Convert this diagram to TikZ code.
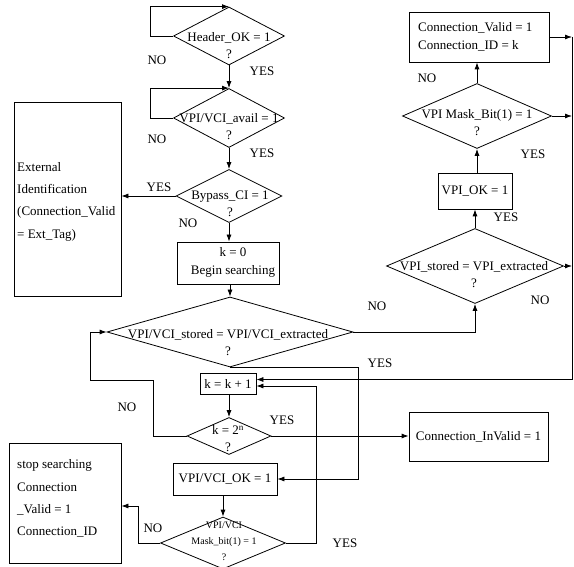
\documentclass[tikz,border=0pt]{standalone}
\usepackage{fontspec}
\setmainfont{Liberation Serif}
\usetikzlibrary{arrows.meta,shapes.geometric}
\begin{document}
\begin{tikzpicture}[x=1pt,y=-1pt,
  every node/.style={font=\fontsize{13}{16}\selectfont, inner sep=0pt},
  dia/.style={draw, diamond, inner sep=0pt, line width=0.8pt},
  box/.style={draw, rectangle, line width=0.8pt, align=center},
  dtext/.style={align=center, font=\fontsize{13}{17}\selectfont},
  ltext/.style={align=left, anchor=west},
  arr/.style={-{Latex[length=7pt,width=5pt]}, line width=0.8pt}]
\useasboundingbox (0,0) rectangle (574,567);

% ---- diamonds
\node[dia, minimum width=111pt, minimum height=58pt] (d1) at (229,36) {};
\node[dtext] (t1) at (229,45.5) {Header\_OK = 1\\?};
\node[dia, minimum width=111pt, minimum height=59pt] (d2) at (229,118) {};
\node[dtext] (t2) at (229,126.5) {VPI/VCI\_avail = 1\\?};
\node[dia, minimum width=106pt, minimum height=53pt] (d3) at (229,196) {};
\node[dtext] (t3) at (230,204) {Bypass\_CI = 1\\?};
\node[dia, minimum width=246pt, minimum height=70pt] (d4) at (230,332) {};
\node[dtext] (t4) at (228,343) {VPI/VCI\_stored = VPI/VCI\_extracted\\?};
\node[dia, minimum width=84pt, minimum height=37pt] (d5) at (229,436) {};
\node[dtext] (t5) at (228,439) {k = 2\textsuperscript{n}\\?};
\node[dia, minimum width=125pt, minimum height=52pt] (d8) at (223,543) {};
\node[align=center, font=\fontsize{10}{16}\selectfont] (t8) at (224,541) {VPI/VCI\\Mask\_bit(1) = 1\\?};
\node[dia, minimum width=177pt, minimum height=75pt] (d6) at (475,266) {};
\node[dtext] (t6) at (474,275) {VPI\_stored = VPI\_extracted\\?};
\node[dia, minimum width=149pt, minimum height=65pt] (d7) at (477,116) {};
\node[dtext] (t7) at (477,122.5) {VPI Mask\_Bit(1) = 1\\?};

% ---- boxes
\node[box, minimum width=107pt, minimum height=194pt] (ext) at (67.5,199) {};
\node[ltext, font=\fontsize{13}{22.3}\selectfont] (text) at (17,201.5) {External\\Identification\\(Connection\_Valid\\= Ext\_Tag)};
\node[box, minimum width=102pt, minimum height=42pt] (k0) at (228,263) {};
\node[dtext, font=\fontsize{13}{18}\selectfont] (tk0) at (233,262) {k = 0\\Begin searching};
\node[box, minimum width=56pt, minimum height=21pt] (kk) at (228,383.5) {k = k + 1};
\node[box, minimum width=104pt, minimum height=32pt] (ok) at (225,479) {VPI/VCI\_OK = 1};
\node[box, minimum width=112pt, minimum height=120pt] (stop) at (65,503) {};
\node[ltext, font=\fontsize{13}{22.3}\selectfont] (tstop) at (17,498.5) {stop searching\\Connection\\\_Valid = 1\\Connection\_ID};
\node[box, minimum width=139pt, minimum height=49pt] (inval) at (478.5,436.5) {Connection\_InValid = 1};
\node[box, minimum width=140pt, minimum height=50pt] (cv) at (479,37) {};
\node[ltext, font=\fontsize{13}{18}\selectfont] (tcv) at (418,37) {Connection\_Valid = 1\\Connection\_ID = k};
\node[box, minimum width=74pt, minimum height=36pt] (vpiok) at (475,191) {VPI\_OK = 1};

% ---- labels
\node (l1) at (157,60) {NO};
\node (l2) at (262,71) {YES};
\node (l3) at (157,139) {NO};
\node (l4) at (262,153) {YES};
\node (l5) at (159,187) {YES};
\node (l6) at (188,223) {NO};
\node (l7) at (377,306) {NO};
\node (l8) at (380,363) {YES};
\node (l9) at (127,407) {NO};
\node (l10) at (282,420) {YES};
\node (l11) at (153,528) {NO};
\node (l12) at (345,543) {YES};
\node (l13) at (427,78) {NO};
\node (l14) at (533,154) {YES};
\node (l15) at (506,217) {YES};
\node (l16) at (540,300) {NO};

% ---- coordinates
\coordinate (yesA) at (358,479);
\coordinate (noA) at (153,380);
\coordinate (noB) at (90,380);
\coordinate (rTop) at (572,37);

% ---- connectors
\draw[arr] (d1.west) -- ++(-23,0) |- (d1.north);
\draw[arr] (d1.south) -- (d2.north);
\draw[arr] (d2.west) -- ++(-23,0) |- (d2.north);
\draw[arr] (d2.south) -- (d3.north);
\draw[arr] (d3.west) -- (d3.west -| ext.east);
\draw[arr] (d3.south) -- (d3.south |- k0.north);
\draw[arr] (k0.south -| d4.north) -- (d4.north);
\draw[arr] (d4.east) -| (d6.south);
\draw[arr] (d4.south) -| (yesA) -- (ok.east);
\draw[arr] (kk.south -| d5.north) -- (d5.north);
\draw[arr] (d5.east) -- (d5.east -| inval.west);
\draw[arr] (d5.west) -| (noA) -- (noB) |- (d4.west);
\draw[arr] (ok.south -| d8.north) -- (d8.north);
\draw[arr] (d8.west) -- ++(-22,0) |- ([yshift=-3pt]stop.east);
\draw[arr] (d8.east) -- ++(30,0) |- ([yshift=-2.5pt]kk.east);
\draw[arr] (d6.north) -- (d6.north |- vpiok.south);
\draw[arr] (vpiok.north -| d7.south) -- (d7.south);
\draw[arr] (d7.north) -- (d7.north |- cv.south);
\draw[arr] (cv.east) -- (cv.east -| rTop);
\draw[arr] (d7.east) -- (d7.east -| rTop);
\draw[arr] (d6.east) -- (d6.east -| rTop);
\draw[arr] (rTop) |- ([yshift=4pt]kk.east);
\end{tikzpicture}
\end{document}
